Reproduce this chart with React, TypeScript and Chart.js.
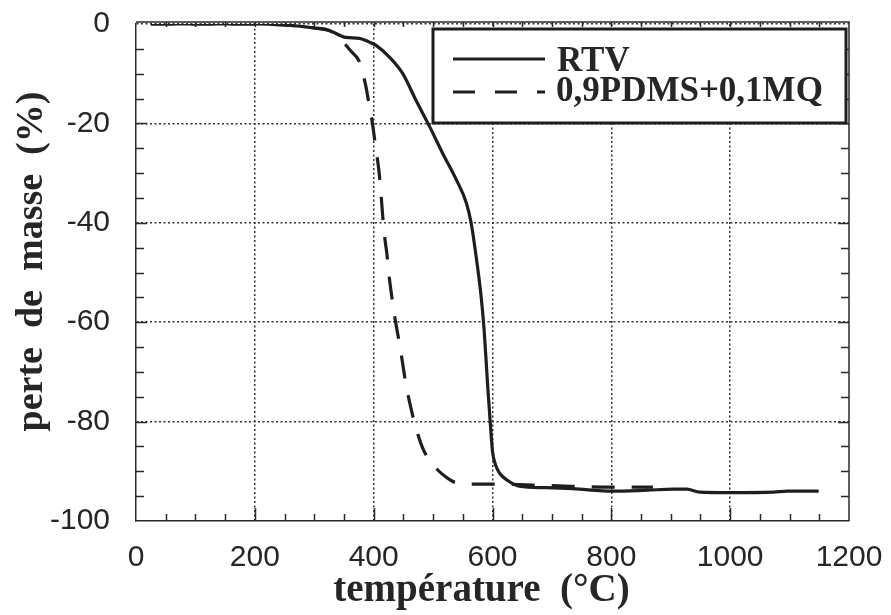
import React, { useEffect, useRef } from "react";
import { Chart, registerables } from "chart.js";

Chart.register(...registerables);

// ---- data ----
const rtvTemp = [25, 100, 200, 250, 300, 325, 353, 376, 392, 404, 426, 449, 471, 494, 516, 539, 556, 564, 572, 581, 586, 592, 596, 600, 606, 612, 625, 645, 690, 735, 802, 860, 904, 927, 949, 1000, 1073, 1096, 1149];
const rtvMass = [0, 0, 0, -0.2, -0.8, -1.3, -2.7, -2.9, -3.6, -4.3, -6.6, -10, -15.3, -20.6, -26, -31.3, -36, -40, -46.4, -55, -61.7, -73, -79.8, -86, -89, -90.4, -91.8, -93, -93.3, -93.5, -94, -93.8, -93.6, -93.6, -94.2, -94.3, -94.2, -94, -94];

const mqTemp = [25, 100, 200, 250, 300, 325, 340, 350, 362, 376, 387, 392, 398, 403, 409, 412, 415, 418, 423, 426, 431, 436, 443, 448, 454, 461, 470, 482, 495, 505, 520, 539, 575, 608, 700, 800, 870];
const mqMass = [0, 0, 0, -0.2, -0.8, -1.3, -2.5, -3.8, -5.5, -7.6, -12.6, -16, -20, -24.5, -29.7, -33.7, -38.3, -42.3, -47, -50.7, -55.3, -59.3, -64, -67.7, -72.3, -76.4, -80.8, -85.2, -88, -89.4, -91, -92.3, -92.6, -92.6, -92.9, -93.2, -93.2];

const seriesLabels = ["RTV", "0,9PDMS+0,1MQ"];
const xTickValues = [0, 200, 400, 600, 800, 1000, 1200];
const yTickValues = [-100, -80, -60, -40, -20, 0];
const xTitle = "température  (°C)";
const yTitle = "perte  de  masse  (%)";

const INK = "#1e1e1e";
const TEXT = "#262626";

function zeroPad(s: any) {
  s.paddingTop = 0;
  s.paddingBottom = 0;
  s.paddingLeft = 0;
  s.paddingRight = 0;
}

export default function App() {
  const ref = useRef<HTMLCanvasElement>(null);

  useEffect(() => {
    const canvas = ref.current;
    if (!canvas) return;

    const decor = {
      id: "decor",
      afterDatasetsDraw(chart: any) {
        const { ctx, chartArea: a, scales } = chart;
        const xs = scales.x;
        const ys = scales.y;
        ctx.save();
        ctx.strokeStyle = "#2a2a2a";
        ctx.lineWidth = 1.5;
        ctx.setLineDash([]);
        // top & right frame
        ctx.beginPath();
        ctx.moveTo(a.left, a.top - 2);
        ctx.lineTo(a.right, a.top - 2);
        ctx.lineTo(a.right, a.bottom);
        ctx.stroke();
        // ticks
        ctx.beginPath();
        for (let v = 50; v < 1200; v += 50) {
          const px = Math.round(xs.getPixelForValue(v)) + 0.5;
          const major = v % 200 === 0;
          ctx.moveTo(px, a.bottom);
          ctx.lineTo(px, a.bottom - (major ? 13 : 7));
          ctx.moveTo(px, a.top - 2);
          ctx.lineTo(px, a.top + 3);
        }
        for (let v = -95; v < 0; v += 5) {
          const py = Math.round(ys.getPixelForValue(v)) + 0.5;
          const major = v % 20 === 0;
          ctx.moveTo(a.left, py);
          ctx.lineTo(a.left + (major ? 11 : 8), py);
          ctx.moveTo(a.right, py);
          ctx.lineTo(a.right - (major ? 11 : 8), py);
        }
        ctx.stroke();

        // legend box
        const lx = a.right - 416;
        const ly = a.top + 5;
        const lw = 413;
        const lh = 94;
        ctx.fillStyle = "#ffffff";
        ctx.fillRect(lx, ly, lw, lh);
        ctx.lineWidth = 3;
        ctx.strokeStyle = INK;
        ctx.strokeRect(lx, ly, lw, lh);
        // samples
        ctx.lineWidth = 3;
        ctx.beginPath();
        ctx.moveTo(lx + 20, ly + 30);
        ctx.lineTo(lx + 112, ly + 30);
        ctx.stroke();
        ctx.setLineDash([22, 20]);
        ctx.beginPath();
        ctx.moveTo(lx + 20, ly + 63);
        ctx.lineTo(lx + 112, ly + 63);
        ctx.stroke();
        ctx.setLineDash([]);
        ctx.fillStyle = TEXT;
        ctx.font = "bold 35px 'Liberation Serif'";
        ctx.textAlign = "left";
        ctx.textBaseline = "alphabetic";
        ctx.fillText(seriesLabels[0], lx + 124, ly + 42);
        ctx.fillText(seriesLabels[1], lx + 123, ly + 72);

        // axis titles
        ctx.font = "bold 39px 'Liberation Serif'";
        ctx.textAlign = "center";
        ctx.fillText(xTitle, (a.left + a.right) / 2 - 11, a.bottom + 80);
        ctx.font = "bold 38px 'Liberation Serif'";
        ctx.translate(42, (a.top + a.bottom) / 2 - 11);
        ctx.rotate(-Math.PI / 2);
        ctx.fillText(yTitle, 0, 0);
        ctx.restore();
      },
    };

    const chart = new Chart(canvas, {
      type: "line",
      data: {
        datasets: [
          {
            label: seriesLabels[0],
            data: rtvTemp.map((t, i) => ({ x: t, y: rtvMass[i] })),
            borderColor: INK,
            borderWidth: 3.2,
            pointRadius: 0,
            cubicInterpolationMode: "monotone",
            fill: false,
          },
          {
            label: seriesLabels[1],
            data: mqTemp.map((t, i) => ({ x: t, y: mqMass[i] })),
            borderColor: INK,
            borderWidth: 3.2,
            borderDash: [23, 17],
            pointRadius: 0,
            cubicInterpolationMode: "monotone",
            fill: false,
          },
        ],
      },
      options: {
        responsive: false,
        animation: false,
        devicePixelRatio: 1,
        layout: { autoPadding: false, padding: { top: 24, right: 42, left: 0, bottom: 0 } },
        plugins: {
          legend: { display: false },
          tooltip: { enabled: false },
          title: { display: false },
        },
        scales: {
          x: {
            type: "linear",
            min: 0,
            max: 1200,
            afterFit: (s: any) => {
              s.height = 94;
              zeroPad(s);
            },
            afterBuildTicks: (s: any) => {
              s.ticks = xTickValues.map((v) => ({ value: v }));
            },
            ticks: {
              padding: 19,
              color: TEXT,
              font: { family: "'Liberation Sans'", size: 30 },
              callback: (v: any) => String(v),
              maxRotation: 0,
              autoSkip: false,
            },
            grid: {
              drawTicks: false,
              lineWidth: 1.5,
              color: (c: any) =>
                c.tick && (c.tick.value === 0 || c.tick.value === 1200) ? "rgba(0,0,0,0)" : "#333",
            },
            border: { display: true, color: "#2a2a2a", width: 1.5, dash: [2, 2.5] },
          },
          y: {
            type: "linear",
            min: -100,
            max: 0,
            afterFit: (s: any) => {
              s.width = 136;
              zeroPad(s);
            },
            afterBuildTicks: (s: any) => {
              s.ticks = yTickValues.map((v) => ({ value: v }));
            },
            ticks: {
              padding: 26,
              color: TEXT,
              font: { family: "'Liberation Sans'", size: 30 },
              callback: (v: any) => String(v),
              autoSkip: false,
            },
            grid: {
              drawTicks: false,
              lineWidth: 1.5,
              color: (c: any) =>
                c.tick && c.tick.value === -100 ? "rgba(0,0,0,0)" : "#333",
            },
            border: { display: true, color: "#2a2a2a", width: 1.5, dash: [2, 2.5] },
          },
        },
      },
      plugins: [decor],
    } as any);

    return () => chart.destroy();
  }, []);

  return (
    <div style={{ position: "fixed", left: 0, top: 0, width: 891, height: 615, background: "#fff" }}>
      <canvas ref={ref} width={891} height={615} style={{ display: "block", width: 891, height: 615 }} />
    </div>
  );
}
